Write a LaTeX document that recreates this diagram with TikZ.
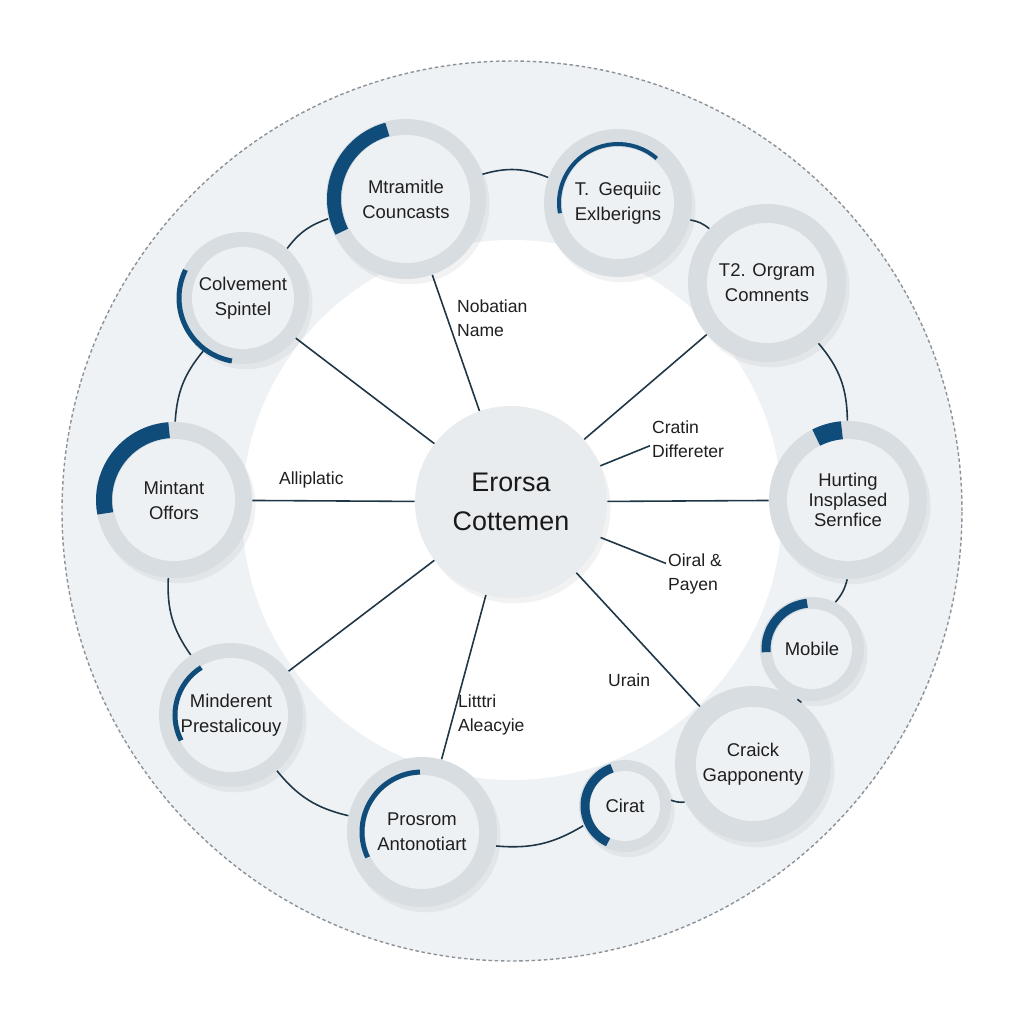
\documentclass[tikz,border=0pt]{standalone}
\usepackage{fontspec}
\setmainfont{Liberation Sans}
\usetikzlibrary{shadows}
\definecolor{band}{HTML}{EEF2F5}
\definecolor{satring}{HTML}{D8DDE1}
\definecolor{satin}{HTML}{EEF1F4}
\definecolor{hubfill}{HTML}{E8ECEF}
\definecolor{prog}{HTML}{0F4C7A}
\definecolor{linkcol}{HTML}{1E3646}
\definecolor{rim}{HTML}{8C9298}
\tikzset{
 sat/.style 2 args={circle,fill=satring,minimum size=#1,inner sep=0pt,align=center,
  font=\fontsize{10.5}{14.2}\selectfont,text=black!88,
  drop shadow={shadow xshift=2pt,shadow yshift=-3pt,opacity=0.10},
  path picture={\fill[satin] (path picture bounding box.center) circle (#2);}},
 hub/.style={circle,fill=hubfill,minimum size=3.84cm,inner sep=0pt,align=center,
  font=\fontsize{15.3}{22}\selectfont,text=black!90,
  drop shadow={shadow xshift=2pt,shadow yshift=-3pt,opacity=0.10}},
 tag/.style={anchor=west,align=left,inner sep=1pt,font=\fontsize{10}{13.6}\selectfont,text=black!88},
 link/.style={draw=linkcol,line width=0.9pt},
 arcbar/.style={draw=prog,line width=#1}
}
\begin{document}
\begin{tikzpicture}
 \useasboundingbox (0,0) rectangle (20.48,20.48);
 \fill[white] (0,0) rectangle (20.48,20.48);
 \draw[fill=band,draw=rim,dash pattern=on 2pt off 1.5pt,line width=0.8pt] (10.24,10.26) circle (9.0);
 \fill[white] (10.24,10.28) circle (5.4);

 \node[hub] (hub) at (10.22,10.44) {Erorsa\\Cottemen};
 \node[sat={3.2cm}{1.28cm}] (n1) at (8.12,16.50) {Mtramitle\\Councasts};
 \node[sat={2.96cm}{1.12cm}] (n2) at (12.36,16.42) {T.\enspace Gequiic\\Exlberigns};
 \node[sat={3.16cm}{1.20cm}] (n3) at (15.34,14.82) {T2. Orgram\\Comnents};
 \node[sat={3.16cm}{1.22cm},font=\fontsize{10.5}{11.5}\selectfont] (n4) at (16.96,10.48) {Hurting\\Insplased\\Sernfice};
 \node[sat={2.08cm}{0.80cm}] (n5) at (16.24,7.50) {Mobile};
 \node[sat={3.12cm}{1.14cm}] (n6) at (15.06,5.20) {Craick\\Gapponenty};
 \node[sat={1.84cm}{0.70cm}] (n7) at (12.50,4.36) {Cirat};
 \node[sat={3.0cm}{1.14cm}] (n8) at (8.44,3.84) {Prosrom\\Antonotiart};
 \node[sat={2.88cm}{1.14cm}] (n9) at (4.62,6.18) {Minderent\\Prestalicouy};
 \node[sat={3.12cm}{1.22cm}] (n10) at (3.48,10.48) {Mintant\\Offors};
 \node[sat={2.64cm}{1.02cm}] (n11) at (4.86,14.52) {Colvement\\Spintel};

 \node[tag] (l1) at (9.10,14.12) {Nobatian\\Name};
 \node[tag] (l2) at (13.0,11.70) {Cratin\\Differeter};
 \node[tag] (l3) at (5.54,10.88) {Alliplatic};
 \node[tag] (l4) at (13.32,9.0) {Oiral \&\\Payen};
 \node[tag] (l5) at (12.12,6.88) {Urain};
 \node[tag] (l6) at (9.12,6.18) {Litttri\\Aleacyie};

 \draw[link] (hub) -- (n11);
 \draw[link] (hub) -- (n1);
 \draw[link] (hub) -- (n3);
 \draw[link] (hub) -- (n4);
 \draw[link] (hub) -- (n10);
 \draw[link] (hub) -- (n9);
 \draw[link] (hub) -- (n8);
 \draw[link] (hub) -- (n6);
 \draw[link] (hub) -- (l2.190);
 \draw[link] (hub) -- (l4.160);

 \draw[link] (n1) to[bend left=19] (n2);
 \draw[link] (n2) to[bend left=15] (n3);
 \draw[link] (n3) to[bend left=20] (n4);
 \draw[link] (n4) to[bend left=13] (n5);
 \draw[link] (n5) to[bend left=11] (n6);
 \draw[link] (n6) to[bend left=11] (n7);
 \draw[link] (n7) to[bend left=18] (n8);
 \draw[link] (n8) to[bend left=19] (n9);
 \draw[link] (n9) to[bend left=19] (n10);
 \draw[link] (n10) to[bend left=18] (n11);
 \draw[link] (n11) to[bend left=17] (n1);

 \draw[arcbar=0.28cm] (n1.center) ++(105:1.44) arc[start angle=105,end angle=207,radius=1.44];
 \draw[arcbar=0.08cm] (n2.center) ++(49:1.18) arc[start angle=49,end angle=190,radius=1.18];
 \draw[arcbar=0.36cm] (n4.center) ++(95:1.40) arc[start angle=95,end angle=117,radius=1.40];
 \draw[arcbar=0.18cm] (n5.center) ++(96:0.92) arc[start angle=96,end angle=184,radius=0.92];
 \draw[arcbar=0.18cm] (n7.center) ++(109:0.80) arc[start angle=109,end angle=245,radius=0.80];
 \draw[arcbar=0.10cm] (n8.center) ++(92:1.20) arc[start angle=92,end angle=205,radius=1.20];
 \draw[arcbar=0.10cm] (n9.center) ++(122:1.12) arc[start angle=122,end angle=207,radius=1.12];
 \draw[arcbar=0.32cm] (n10.center) ++(94:1.40) arc[start angle=94,end angle=191,radius=1.40];
 \draw[arcbar=0.10cm] (n11.center) ++(154:1.28) arc[start angle=154,end angle=260,radius=1.28];
\end{tikzpicture}
\end{document}
